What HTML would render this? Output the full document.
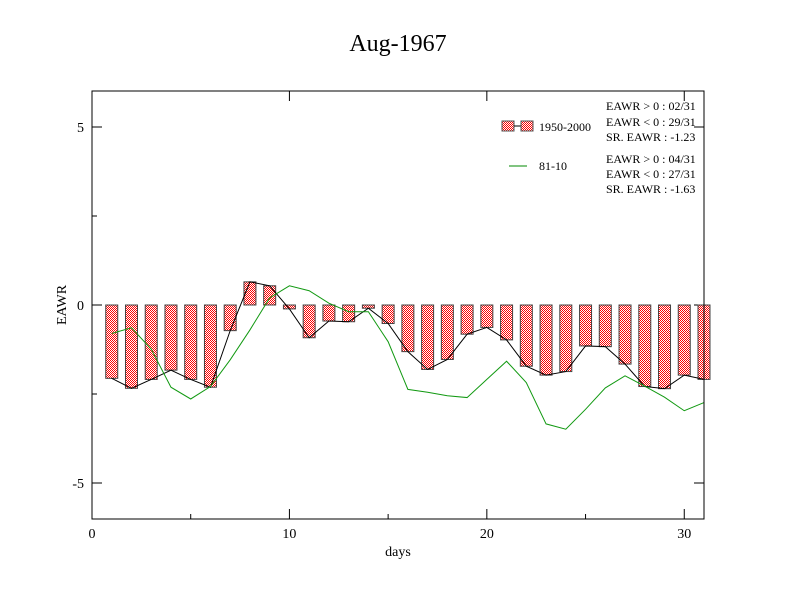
<!DOCTYPE html>
<html><head><meta charset="utf-8"><style>
body{margin:0;background:#fff}
svg{display:block;font-family:"Liberation Serif",serif}
</style></head><body>
<svg id="chart" width="792" height="612" viewBox="0 0 792 612">
<defs>
<pattern id="chk" width="2" height="2" patternUnits="userSpaceOnUse">
<rect width="2" height="2" fill="#fff"/><rect width="1" height="1" fill="#f00"/><rect x="1" y="1" width="1" height="1" fill="#f00"/>
</pattern>
</defs>
<rect width="792" height="612" fill="#fff"/>
<text x="398" y="51" font-size="24" text-anchor="middle">Aug-1967</text>
<g id="plot"></g>
<rect x="92" y="91" width="612" height="428" fill="none" stroke="#000" stroke-width="1"/>
<text x="398" y="556" font-size="14" text-anchor="middle">days</text>
<text x="66" y="305" font-size="14" text-anchor="middle" transform="rotate(-90 66 305)">EAWR</text>
<g>
<rect x="502" y="121" width="12" height="10" fill="url(#chk)" stroke="#555"/>
<line x1="514" y1="126" x2="521" y2="126" stroke="#000"/>
<rect x="521" y="121" width="12" height="10" fill="url(#chk)" stroke="#555"/>
<text x="539" y="131" font-size="12">1950-2000</text>
<line x1="509" y1="166" x2="527" y2="166" stroke="#080" stroke-width="1"/>
<text x="539" y="170" font-size="12">81-10</text>
<g font-size="12">
<text x="606" y="110">EAWR &gt; 0 : 02/31</text>
<text x="606" y="126">EAWR &lt; 0 : 29/31</text>
<text x="606" y="141">SR. EAWR : -1.23</text>
<text x="606" y="163">EAWR &gt; 0 : 04/31</text>
<text x="606" y="178">EAWR &lt; 0 : 27/31</text>
<text x="606" y="193">SR. EAWR : -1.63</text>
</g>
</g>
</svg>
<script>
const days=[1,2,3,4,5,6,7,8,9,10,11,12,13,14,15,16,17,18,19,20,21,22,23,24,25,26,27,28,29,30,31];
const eawr5000=[-2.06,-2.34,-2.09,-1.83,-2.09,-2.31,-0.72,0.65,0.54,-0.11,-0.92,-0.45,-0.47,-0.09,-0.52,-1.31,-1.81,-1.53,-0.82,-0.63,-0.98,-1.72,-1.97,-1.87,-1.15,-1.17,-1.66,-2.29,-2.35,-1.97,-2.09];
const eawr8110=[-0.80,-0.64,-1.24,-2.31,-2.64,-2.29,-1.54,-0.70,0.2,0.54,0.40,0.05,-0.19,-0.19,-1.03,-2.37,-2.45,-2.55,-2.60,-2.09,-1.58,-2.18,-3.34,-3.49,-2.93,-2.33,-1.99,-2.28,-2.59,-2.97,-2.74];
const xTicks=[0,10,20,30];
const yTicks=[5,0,-5];
const yTickLabels=["5","0","-5"];
const NS="http://www.w3.org/2000/svg";
const X=v=>92+v*612/31;
const Y=v=>305-v*35.6;
const g=document.getElementById('plot');
function mk(t,a){const e=document.createElementNS(NS,t);for(const k in a)e.setAttribute(k,a[k]);g.appendChild(e);return e;}
// ticks
xTicks.forEach(t=>{
 const l=mk('line',{x1:X(t),x2:X(t),y1:519,y2:509,stroke:'#000'});
 
 
 const l2=mk('line',{x1:X(t),x2:X(t),y1:91,y2:101,stroke:'#000'});
 
 
 const tx=mk('text',{x:X(t),y:538,'font-size':14,'text-anchor':'middle'});tx.textContent=t;
 
 
});
[5,15,25].forEach(t=>{
 const l=mk('line',{x1:X(t),x2:X(t),y1:519,y2:514,stroke:'#000'});
 
 
});
yTicks.forEach((t,i)=>{
 const l=mk('line',{x1:92,x2:102,y1:Y(t),y2:Y(t),stroke:'#000'});
 
 
 const l2=mk('line',{x1:694,x2:704,y1:Y(t),y2:Y(t),stroke:'#000'});
 
 
 const tx=mk('text',{x:84,y:Y(t)+5,'font-size':14,'text-anchor':'end'});tx.textContent=yTickLabels[i];
 
 
});
[2.5,-2.5].forEach(t=>{
 const l=mk('line',{x1:92,x2:97,y1:Y(t),y2:Y(t),stroke:'#000'});
 
 
});
// bars
days.forEach((d,i)=>{
 const v=eawr5000[i];const y0=Math.min(Y(0),Y(v));const h=Math.max(1,Math.abs(Y(v)-Y(0)));
 const r=mk('rect',{x:X(d)-6,y:y0,width:12,height:h,fill:'url(#chk)',stroke:'#444','stroke-width':1});
 
 
});
// black line through bar ends
const bl=mk('polyline',{points:days.map((d,i)=>X(d)+','+Y(eawr5000[i])).join(' '),fill:'none',stroke:'#000','stroke-width':1});


// green line
const gl=mk('polyline',{points:days.map((d,i)=>X(d)+','+Y(eawr8110[i])).join(' '),fill:'none',stroke:'#119911','stroke-width':1});


</script>
</body></html>
